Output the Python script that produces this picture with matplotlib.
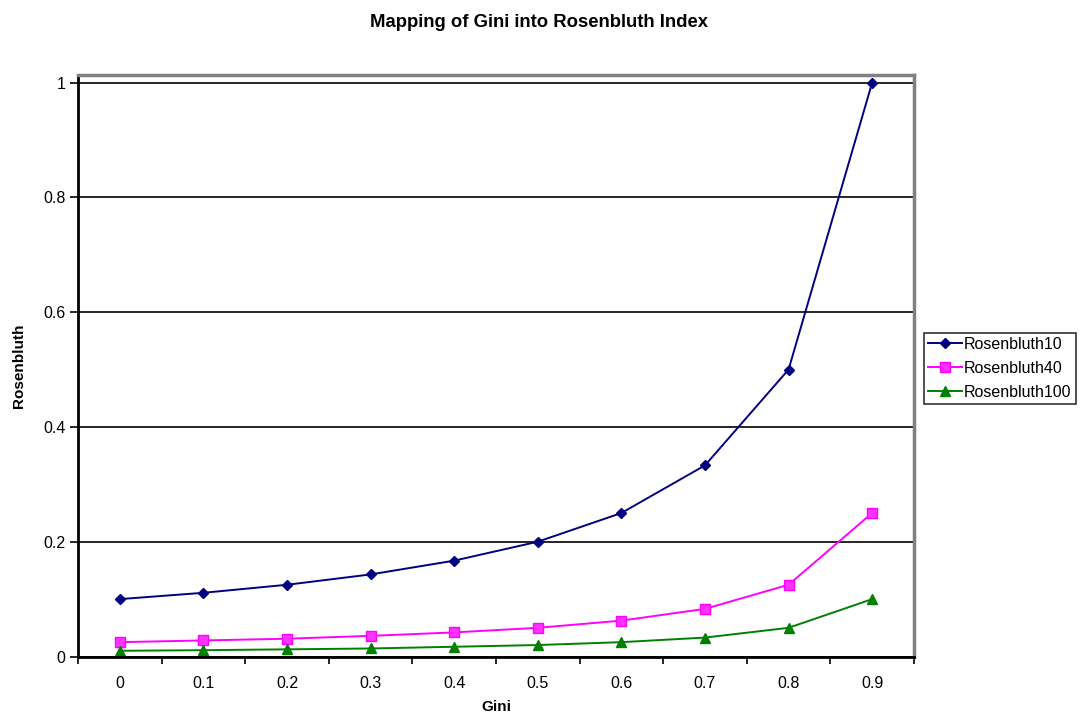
import matplotlib
matplotlib.use("Agg")
import matplotlib.pyplot as plt
import numpy as np

plt.rcParams['font.family'] = ['Liberation Sans', 'DejaVu Sans']

# Data
gini = ['0', '0.1', '0.2', '0.3', '0.4', '0.5', '0.6', '0.7', '0.8', '0.9']
rosenbluth10 = [0.100, 0.111, 0.125, 0.143, 0.167, 0.200, 0.250, 0.333, 0.500, 1.000]
rosenbluth40 = [0.025, 0.028, 0.031, 0.036, 0.042, 0.050, 0.0625, 0.083, 0.125, 0.250]
rosenbluth100 = [0.010, 0.011, 0.0125, 0.014, 0.017, 0.020, 0.025, 0.033, 0.050, 0.100]

fig = plt.figure(figsize=(10.86, 7.15), dpi=100)
ax = fig.add_axes([0.0718, 0.0818, 0.7698, 0.8132])

x = np.arange(len(gini))
ax.plot(x, rosenbluth10, color='#000080', marker='D', markersize=5.5, lw=1.4, label='Rosenbluth10')
ax.plot(x, rosenbluth40, color='#FF00FF', marker='s', markersize=7.5, lw=1.4,
        markerfacecolor='#FF33FF', markeredgecolor='#FF00FF', label='Rosenbluth40')
ax.plot(x, rosenbluth100, color='#008000', marker='^', markersize=7.5, lw=1.4, label='Rosenbluth100')

ax.set_xlim(-0.5, len(gini) - 0.5)
ax.set_ylim(0, 1.013)
ax.set_yticks([0, 0.2, 0.4, 0.6, 0.8, 1])
ax.set_yticklabels(['0', '0.2', '0.4', '0.6', '0.8', '1'])
ax.yaxis.grid(True, color='black', lw=1.2)
ax.set_axisbelow(True)

# category labels centered, ticks at category boundaries
ax.set_xticks(x)
ax.set_xticklabels(gini)
ax.set_xticks(np.arange(-0.5, len(gini)), minor=True)
ax.tick_params(axis='x', which='major', length=0, pad=14, labelsize=11.5)
ax.tick_params(axis='x', which='minor', length=5, width=1.2, direction='out')
ax.tick_params(axis='y', length=6, width=1.2, labelsize=11.5, pad=3)

for s in ['left', 'bottom']:
    ax.spines[s].set_color('black')
    ax.spines[s].set_linewidth(2)
for s in ['top', 'right']:
    ax.spines[s].set_color('#808080')
    ax.spines[s].set_linewidth(2.5)

ax.set_xlabel('Gini', fontweight='bold', fontsize=11, labelpad=6.5)
ax.set_ylabel('Rosenbluth', fontweight='bold', fontsize=11, labelpad=12)
fig.suptitle('Mapping of Gini into Rosenbluth Index', fontweight='bold', fontsize=13.3,
             x=0.496, y=0.98)

leg = fig.legend(loc='center left', bbox_to_anchor=(0.851, 0.485), frameon=True,
                 fancybox=False, edgecolor='black', fontsize=11.5, handlelength=2.1,
                 borderpad=0.25, labelspacing=0.55, handletextpad=0.15, borderaxespad=0)
leg.get_frame().set_linewidth(1.2)

fig.savefig('out.png', dpi=100)
